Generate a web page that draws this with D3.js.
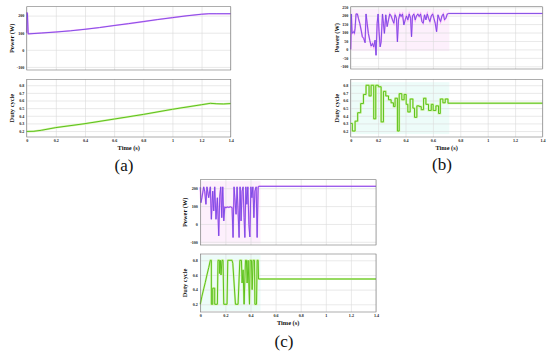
<!DOCTYPE html>
<html><head><meta charset="utf-8">
<script src="https://cdn.jsdelivr.net/npm/d3@7/dist/d3.min.js"></script>
<style>body{margin:0;background:#fff}svg{display:block}</style>
</head><body><svg id="c" width="550" height="351"></svg>
<script>
// ---------- data ----------
const timeTicks = [0, 0.2, 0.4, 0.6, 0.8, 1, 1.2, 1.4];
const powerTicksAC = [-100, 0, 100, 200];
const powerTicksB = [-100, -50, 0, 50, 100, 150, 200, 250];
const dutyTicksAB = [0.2, 0.3, 0.4, 0.5, 0.6, 0.7, 0.8];
const dutyTicksC = [0.2, 0.4, 0.6, 0.8];

// (a)
const timeA_P = [0, 0.002, 0.005, 0.01, 0.1, 0.2, 0.3, 0.4, 0.5, 0.6, 0.7, 0.8, 0.9, 1.0, 1.1, 1.2, 1.25, 1.3, 1.4];
const powerA  = [100, 218, 212, 93, 98, 104, 111, 120, 130, 142, 153, 165, 177, 188, 199, 208, 211, 211, 211];
const timeA_D = [0, 0.05, 0.1, 0.2, 0.4, 0.6, 0.8, 1.0, 1.2, 1.26, 1.3, 1.35, 1.4];
const dutyA   = [0.195, 0.197, 0.21, 0.245, 0.297, 0.357, 0.418, 0.485, 0.545, 0.563, 0.558, 0.555, 0.56];

// (b)
const timeB_P = [0,0.005,0.010,0.020,0.027,0.032,0.039,0.049,0.056,0.066,0.076,0.085,0.095,0.105,0.112,0.120,0.129,0.139,0.149,0.159,0.168,0.178,0.185,0.193,0.200,0.207,0.215,0.222,0.232,0.239,0.246,0.256,0.266,0.276,0.285,0.295,0.305,0.315,0.324,0.334,0.341,0.349,0.359,0.368,0.378,0.388,0.398,0.407,0.417,0.427,0.437,0.444,0.451,0.461,0.471,0.480,0.490,0.500,0.510,0.520,0.529,0.539,0.549,0.559,0.568,0.578,0.588,0.598,0.607,0.617,0.627,0.637,0.646,0.656,0.666,0.676,0.685,0.695,0.705,0.715,1.4];
const powerB  = [0,210,95,105,95,125,210,210,185,155,115,75,65,40,210,155,95,55,20,35,15,55,-35,155,210,105,15,45,210,155,95,205,135,175,210,198,175,155,205,185,45,175,210,195,210,145,175,198,175,210,185,75,198,210,175,198,210,195,210,165,155,205,175,210,185,165,198,210,185,155,105,205,185,165,198,210,175,185,210,213,213];
const timeB_D = [0,0.012,0.032,0.051,0.073,0.093,0.112,0.134,0.149,0.168,0.183,0.202,0.222,0.239,0.256,0.276,0.295,0.312,0.324,0.341,0.354,0.373,0.390,0.405,0.417,0.434,0.454,0.466,0.483,0.500,0.515,0.532,0.549,0.568,0.588,0.602,0.622,0.641,0.654,0.673,0.690,0.710,1.4];
const dutyB   = [0.30,0.20,0.33,0.44,0.56,0.68,0.80,0.66,0.80,0.36,0.80,0.78,0.32,0.72,0.66,0.61,0.57,0.52,0.63,0.20,0.69,0.61,0.68,0.55,0.45,0.62,0.50,0.38,0.53,0.52,0.48,0.63,0.55,0.47,0.55,0.47,0.53,0.43,0.62,0.57,0.62,0.565,0.565];

// (c)
const timeC_P = [0,0.005,0.013,0.027,0.035,0.045,0.053,0.067,0.080,0.088,0.099,0.107,0.115,0.125,0.136,0.147,0.155,0.163,0.171,0.179,0.187,0.195,0.205,0.213,0.227,0.240,0.253,0.261,0.269,0.275,0.285,0.293,0.301,0.309,0.317,0.325,0.333,0.341,0.349,0.355,0.363,0.371,0.379,0.387,0.395,0.403,0.411,0.419,0.427,0.435,0.445,0.453,0.461,0.467,1.4];
const powerC  = [206,119,147,208,184,110,208,147,208,26,184,73,208,26,147,-67,156,208,35,208,17,95,91,95,93,96,92,-76,208,147,54,208,73,-76,208,17,184,208,35,-76,208,110,208,-2,-73,208,147,208,35,184,208,-76,208,211,211];
const timeC_D = [0,0.013,0.027,0.040,0.053,0.067,0.080,0.088,0.088,0.099,0.099,0.115,0.115,0.136,0.141,0.152,0.152,0.160,0.165,0.173,0.181,0.187,0.213,0.219,0.253,0.259,0.280,0.301,0.315,0.328,0.333,0.341,0.349,0.360,0.368,0.373,0.381,0.392,0.397,0.408,0.413,0.421,0.432,0.435,0.448,0.453,0.461,0.464,1.4];
const dutyC   = [0.20,0.31,0.41,0.50,0.60,0.70,0.80,0.80,0.20,0.20,0.42,0.42,0.20,0.20,0.80,0.80,0.62,0.80,0.60,0.80,0.80,0.20,0.20,0.80,0.80,0.76,0.20,0.20,0.80,0.80,0.49,0.67,0.20,0.80,0.80,0.49,0.80,0.20,0.80,0.80,0.40,0.80,0.80,0.20,0.20,0.80,0.80,0.545,0.545];

// ---------- layout ----------
const panels = [
  {id:"(a)", x0:26.7, x1:230.7, pTop:6.7, pBot:70, dTop:79.3, dBot:137, pDom:[-118,252], dDom:[0.122,0.878],
   pTicks:powerTicksAC, dTicks:dutyTicksAB, tp:timeA_P, p:powerA, td:timeA_D, d:dutyA, step:false,
   labX:13, capX:124, capY:165, tint:null},
  {id:"(b)", x0:350.7, x1:542.5, pTop:6.7, pBot:69, dTop:79.3, dBot:137, pDom:[-116,253], dDom:[0.122,0.878],
   pTicks:powerTicksB, dTicks:dutyTicksAB, tp:timeB_P, p:powerB, td:timeB_D, d:dutyB, step:true,
   labX:11.5, capX:442, capY:164, tint:{t:0.72, pHi:240, pLo:-10, dHi:0.84, dLo:0.16}},
  {id:"(c)", x0:200.3, x1:376, pTop:179.7, pBot:245, dTop:254, dBot:312, pDom:[-118,248], dDom:[0.095,0.886],
   pTicks:powerTicksAC, dTicks:dutyTicksC, tp:timeC_P, p:powerC, td:timeC_D, d:dutyC, step:false,
   labX:13.5, capX:284, capY:341, tint:{t:0.48, pHi:240, pLo:-110, dHi:0.87, dLo:0.11}}
];

const svg = d3.select("#c");
const serif = "'Liberation Serif','Times New Roman',serif";
const magenta = "#ec5af5", violet = "#7448e4", green = "#5cc21c";

function fmt(v){ return String(+v.toFixed(2)); }

panels.forEach(P => {
  const x = d3.scaleLinear().domain([0,1.4]).range([P.x0, P.x1]);
  const yp = d3.scaleLinear().domain(P.pDom).range([P.pBot, P.pTop]);
  const yd = d3.scaleLinear().domain(P.dDom).range([P.dBot, P.dTop]);
  const g = svg.append("g");

  function frame(y, top, bot, ticks, tint, color){
    g.append("rect").attr("x",P.x0).attr("y",top).attr("width",P.x1-P.x0).attr("height",bot-top).attr("fill","#fff");
    if (tint) g.append("rect").attr("x",x(0)).attr("width",x(tint.t)-x(0))
        .attr("y",y(tint.hi)).attr("height",y(tint.lo)-y(tint.hi)).attr("fill",color);
    const ax = g.append("g").attr("transform",`translate(0,${bot})`)
      .call(d3.axisBottom(x).tickValues(timeTicks).tickSize(-(bot-top)).tickPadding(2.4).tickFormat(fmt));
    const ay = g.append("g").attr("transform",`translate(${P.x0},0)`)
      .call(d3.axisLeft(y).tickValues(ticks).tickSize(-(P.x1-P.x0)).tickPadding(2.4).tickFormat(fmt));
    [ax,ay].forEach(a=>{
      a.select(".domain").remove();
      a.selectAll("line").attr("stroke","#dadada").attr("stroke-width",0.6);
      a.selectAll("text").attr("font-family",serif).attr("font-size",4.1).attr("font-weight","bold").attr("fill","#222");
    });
    return ax;
  }
  const axP = frame(yp, P.pTop, P.pBot, P.pTicks, P.tint?{t:P.tint.t,hi:P.tint.pHi,lo:P.tint.pLo}:null, "#fdf0fc");
  axP.selectAll("text").remove();
  frame(yd, P.dTop, P.dBot, P.dTicks, P.tint?{t:P.tint.t,hi:P.tint.dHi,lo:P.tint.dLo}:null, "#edfcf9");

  // power lines
  const pts = P.tp.map((t,i)=>[t,P.p[i]]);
  const lp = d3.line().x(d=>x(d[0])).y(d=>yp(d[1]));
  g.append("path").attr("d",lp(pts)).attr("fill","none").attr("stroke",magenta).attr("stroke-width",1.6).attr("stroke-opacity",0.55);
  g.append("path").attr("d",lp(pts)).attr("fill","none").attr("stroke",violet).attr("stroke-width",0.9);

  // duty line
  const dpts = P.td.map((t,i)=>[t,P.d[i]]);
  const ld = d3.line().x(d=>x(d[0])).y(d=>yd(d[1])).curve(P.step?d3.curveStepAfter:d3.curveLinear);
  g.append("path").attr("d",ld(dpts)).attr("fill","none").attr("stroke","#d3f2a8").attr("stroke-width",2.0);
  g.append("path").attr("d",ld(dpts)).attr("fill","none").attr("stroke",green).attr("stroke-width",1.0);

  // borders
  [[P.pTop,P.pBot],[P.dTop,P.dBot]].forEach(([t,b])=>{
    g.append("rect").attr("x",P.x0).attr("y",t).attr("width",P.x1-P.x0).attr("height",b-t)
      .attr("fill","none").attr("stroke","#777").attr("stroke-width",0.6);
  });

  // labels
  const lab = (txt, cx, cy, rot) => g.append("text").text(txt)
    .attr("transform",`translate(${cx},${cy})${rot?" rotate(-90)":""}`)
    .attr("text-anchor","middle").attr("font-family",serif).attr("font-weight","bold")
    .attr("font-size",6.4).attr("fill","#111");
  lab("Power (W)", P.x0-P.labX, (P.pTop+P.pBot)/2, true);
  lab("Duty cycle", P.x0-P.labX, (P.dTop+P.dBot)/2, true);
  lab("Time (s)", (P.x0+P.x1)/2, P.dBot+12.5, false);

  g.append("text").text(P.id).attr("x",P.capX).attr("y",P.capY+5.5)
    .attr("text-anchor","middle").attr("font-family",serif).attr("font-size",17).attr("fill","#111");
});
</script></body></html>
